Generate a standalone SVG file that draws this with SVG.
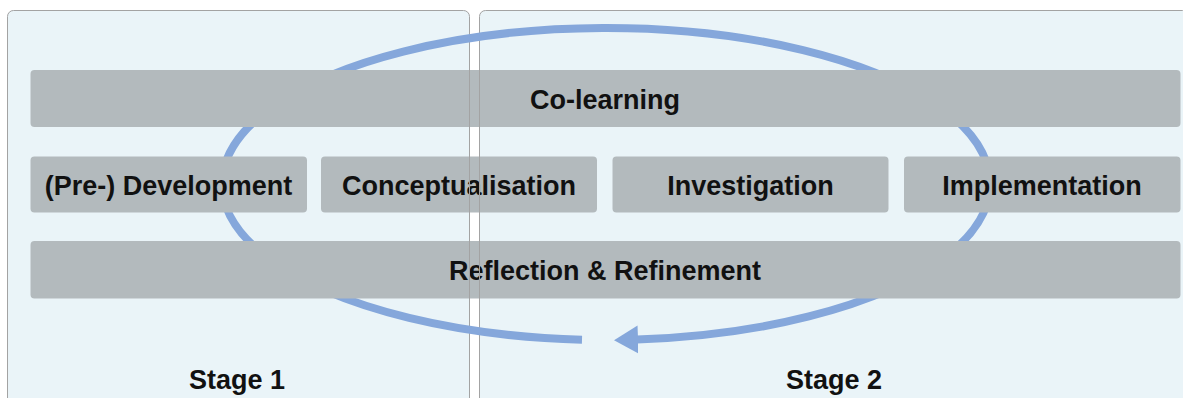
<svg xmlns="http://www.w3.org/2000/svg" width="1183" height="398" viewBox="0 0 1183 398">
  <style>
    .panel { fill: #eaf4f8; stroke: #a3a3a3; stroke-width: 1; }
    .frame { fill: none; stroke: #a3a3a3; stroke-width: 1; }
    .bar { fill: #b3babd; }
    .label { font-family: "Liberation Sans", Arial, Helvetica, sans-serif; font-weight: bold; font-size: 27px; fill: #111111; text-anchor: middle; }
    .cycle { fill: none; stroke: #85a7db; stroke-width: 8; }
  </style>
  <defs>
    <marker id="cycle-head" markerUnits="userSpaceOnUse" markerWidth="26" markerHeight="30" refX="1" refY="15" orient="auto" viewBox="0 0 26 30">
      <path d="M0,1 L24,15 L0,29 Z" fill="#85a7db"/>
    </marker>
  </defs>

  <rect width="1183" height="398" fill="#ffffff"/>

  <!-- stage panels -->
  <g id="stage-1">
    <rect class="panel" x="7.5" y="10.5" width="462" height="400" rx="6"/>
    <text class="label" x="237" y="389">Stage 1</text>
  </g>
  <g id="stage-2">
    <rect class="panel" x="479.5" y="10.5" width="709" height="400" rx="6"/>
    <text class="label" x="834" y="389">Stage 2</text>
  </g>

  <!-- the cycle running behind the phase bars -->
  <g id="connectors">
    <path class="cycle" d="M582,339.7 A384,156 0 1 1 637,339.5" marker-end="url(#cycle-head)"/>
  </g>

  <!-- phase bars -->
  <g id="co-learning">
    <rect class="bar" x="30.5" y="70" width="1150" height="57" rx="4"/>
    <text class="label" x="605" y="109">Co-learning</text>
  </g>
  <g id="pre-development">
    <rect class="bar" x="30.5" y="156.5" width="276.5" height="56" rx="4"/>
    <text class="label" x="168.5" y="195">(Pre-) Development</text>
  </g>
  <g id="conceptualisation">
    <rect class="bar" x="321" y="156.5" width="276" height="56" rx="4"/>
    <text class="label" x="459" y="195">Conceptualisation</text>
  </g>
  <g id="investigation">
    <rect class="bar" x="612.5" y="156.5" width="276" height="56" rx="4"/>
    <text class="label" x="750.5" y="195">Investigation</text>
  </g>
  <g id="implementation">
    <rect class="bar" x="904" y="156.5" width="276.5" height="56" rx="4"/>
    <text class="label" x="1042" y="195">Implementation</text>
  </g>
  <g id="reflection-refinement">
    <rect class="bar" x="30.5" y="241" width="1150" height="57.5" rx="4"/>
    <text class="label" x="605" y="280">Reflection &amp; Refinement</text>
  </g>

  <!-- panel edges stay visible across the bars -->
  <g id="panel-edges">
    <line class="frame" x1="469.5" y1="60" x2="469.5" y2="310"/>
    <line class="frame" x1="479.5" y1="60" x2="479.5" y2="310"/>
  </g>
</svg>
